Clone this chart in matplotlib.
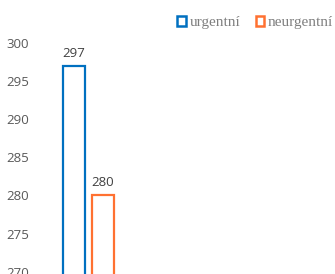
import matplotlib.pyplot as plt
from matplotlib.patches import Patch

# data
series = ['urgentní', 'neurgentní']
values = [297, 280]
colors = ['#0070C0', '#FF7131']
yticks = [270, 275, 280, 285, 290, 295, 300]

fig = plt.figure(figsize=(3.35, 2.74), dpi=100)
ax = fig.add_axes([40 / 335, 0, 295 / 335, 1 - 43 / 274])

for i, (name, v, c) in enumerate(zip(series, values, colors)):
    ax.bar(i, v - 260, bottom=260, width=0.76, facecolor='white',
           edgecolor=c, linewidth=1.6)
    ax.text(i, v + 0.8, str(v), ha='center', va='bottom',
            fontsize=9.5, color='#404040', family='Open Sans')

ax.set_ylim(269.7, 300)
ax.set_xlim(-1.17, 9.0)
ax.set_yticks(yticks)
ax.set_yticklabels([str(t) for t in yticks], family='Open Sans',
                   fontsize=9.5, color='#595959')
ax.set_xticks([])
ax.tick_params(axis='y', length=0, pad=8)
for s in ax.spines.values():
    s.set_visible(False)

handles = [Patch(facecolor='white', edgecolor=c, linewidth=1.8, label=n)
           for n, c in zip(series, colors)]
fig.legend(handles=handles, loc='upper right', bbox_to_anchor=(1.035, 0.99),
           ncol=2, frameon=False, prop={'family': 'Liberation Serif', 'size': 11},
           labelcolor='#7F7F7F', handlelength=0.55, handleheight=0.55,
           handletextpad=0.25, columnspacing=1.0)

fig.savefig('out.png', dpi=100)
